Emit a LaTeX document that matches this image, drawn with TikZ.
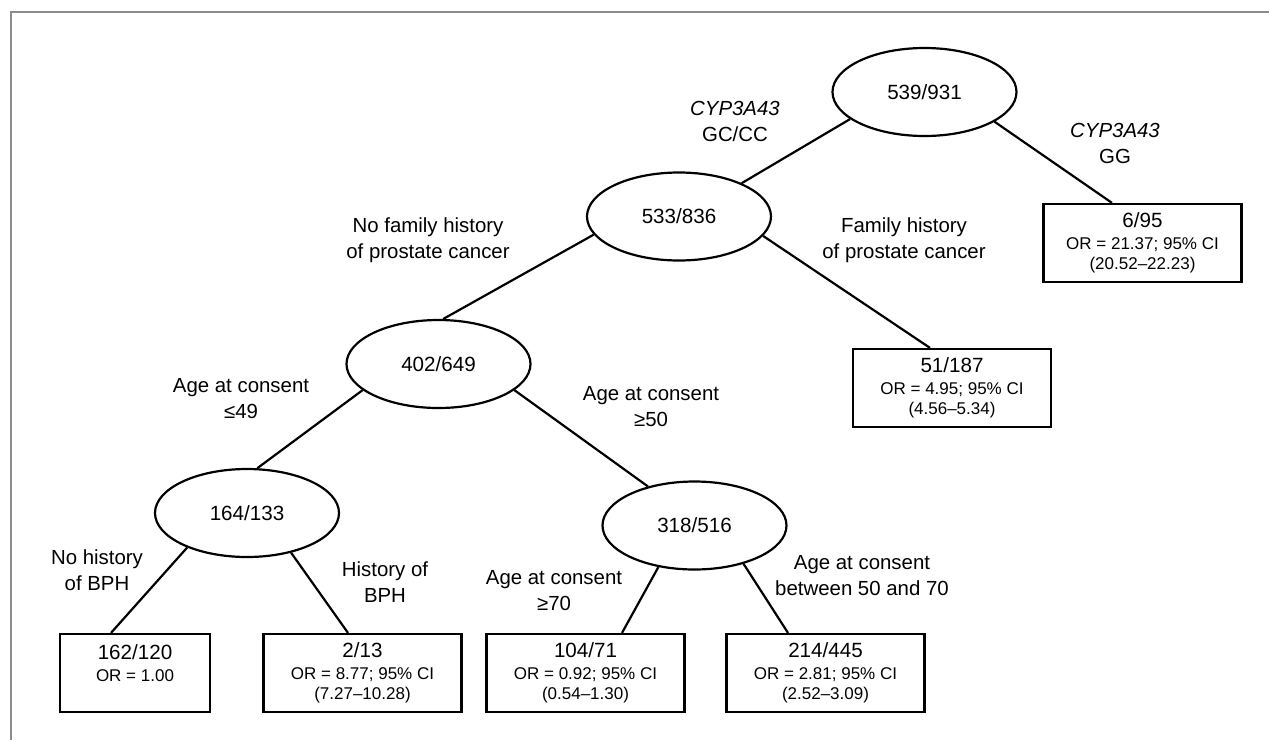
\documentclass[tikz,border=0pt]{standalone}
\usepackage{fontspec}
\setmainfont{Liberation Sans}
\usetikzlibrary{shapes.geometric}
\newcommand{\orsize}{\fontsize{8.5}{10}\selectfont}

\begin{document}
\begin{tikzpicture}[x=0.5pt,y=-0.5pt,line width=1.1pt]
  \useasboundingbox (0,0) rectangle (1269,740);
  \draw[black!45,line width=1.25pt] (11,740) -- (11,12) -- (1269,12);

  \tikzstyle{Split}=[draw,ellipse,inner sep=0pt,minimum width=92pt,minimum height=44pt,
                     font=\fontsize{10.3}{12}\selectfont]
  \tikzstyle{Leaf}=[draw,rectangle,inner sep=0pt,minimum width=99pt,minimum height=39pt,
                    align=center,font=\fontsize{10.3}{10}\selectfont]
  \tikzstyle{Cond}=[align=center,font=\fontsize{10.2}{13}\selectfont]

  % splits
  \node[Split] (n539) at (924.5,92) {539/931};
  \node[Split] (n533) at (679,216.5) {533/836};
  \node[Split] (n402) at (438.5,364) {402/649};
  \node[Split] (n164) at (247,513) {164/133};
  \node[Split] (n318) at (694.5,525.5) {318/516};

  % leaves
  \node[Leaf] (l6) at (1142.5,243) {6/95\\[1pt]\orsize OR = 21.37; 95\% CI\\\orsize (20.52--22.23)};
  \node[Leaf] (l51) at (952,388) {51/187\\[1pt]\orsize OR = 4.95; 95\% CI\\\orsize (4.56--5.34)};
  \node[Leaf,minimum width=75pt] (l162) at (135,673) {162/120\\[1pt]\orsize OR = 1.00\\\orsize\mbox{}};
  \node[Leaf] (l2) at (362.5,673) {2/13\\[1pt]\orsize OR = 8.77; 95\% CI\\\orsize (7.27--10.28)};
  \node[Leaf] (l104) at (585.5,673) {104/71\\[1pt]\orsize OR = 0.92; 95\% CI\\\orsize (0.54--1.30)};
  \node[Leaf] (l214) at (825.5,673) {214/445\\[1pt]\orsize OR = 2.81; 95\% CI\\\orsize (2.52--3.09)};

  % conditions
  \node[Cond] (gcc) at (735,121) {\textit{CYP3A43}\\GC/CC};
  \node[Cond] (gg) at (1115,143) {\textit{CYP3A43}\\GG};
  \node[Cond] (nofam) at (428,240) {No family history\\of prostate cancer};
  \node[Cond] (fam) at (904,240) {Family history\\of prostate cancer};
  \node[Cond] (le49) at (241,399) {Age at consent\\≤49};
  \node[Cond] (ge50) at (651,407) {Age at consent\\≥50};
  \node[Cond] (nobph) at (97,570) {No history\\of BPH};
  \node[Cond] (bph) at (385,582) {History of\\BPH};
  \node[Cond] (ge70) at (554,591) {Age at consent\\≥70};
  \node[Cond] (mid) at (862,576) {Age at consent\\between 50 and 70};

  \draw (n539.200) -- (n533.28.7);
  \draw (n539.337.5) -- ([xshift=-15.25pt]l6.north);
  \draw (n533.192) -- (n402.84.4);
  \draw (n533.347.4) -- ([xshift=-11pt]l51.north);
  \draw (n402.199) -- (n164.77.7);
  \draw (n402.341.7) -- (n318.140.7);
  \draw (n164.210.4) -- ([xshift=-12pt]l162.north);
  \draw (n164.318.3) -- ([xshift=-7.25pt]l2.north);
  \draw (n318.229.9) -- ([xshift=18.25pt]l104.north);
  \draw (n318.322.4) -- ([xshift=-18.75pt]l214.north);
\end{tikzpicture}
\end{document}
